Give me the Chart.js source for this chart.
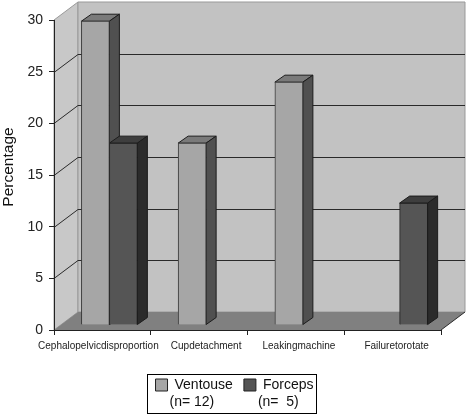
<!DOCTYPE html>
<html>
<head>
<meta charset="utf-8">
<style>
  html, body { margin: 0; padding: 0; background: #fff; }
  #wrap { width: 466px; height: 414px; }
</style>
<script src="https://cdn.jsdelivr.net/npm/chart.js@4/dist/chart.umd.min.js"></script>
</head>
<body>
<div id="wrap"><canvas id="myChart" width="466" height="414"></canvas></div>
<script>
const categories = ['Cephalopelvicdisproportion', 'Cupdetachment', 'Leakingmachine', 'Failuretorotate'];
const ventouse = [29.4, 17.6, 23.5, null];
const forceps = [17.6, null, null, 11.8];
const yTicks = [0, 5, 10, 15, 20, 25, 30];
const seriesNames = ['Ventouse', 'Forceps'];
const seriesCounts = ['(n= 12)', '(n=  5)'];
const yTitle = 'Percentage';

// depth of the box and of the bars, the library has no 3d so it is done by hand
const WALL_DX = 24;
const WALL_DY = -18;
const BAR_SHIFT_X = 7;
const BAR_SHIFT_Y = -5;
const BAR_DX = 10;
const BAR_DY = -7;
const LABEL_NUDGE = [-4, 7, 3, 4]; // the x labels are not centered on their slots in the original
const LEGEND_NUDGE = 14;
const FONT = '"Liberation Sans", Arial, sans-serif';

function poly(ctx, points, fill, stroke) {
  ctx.beginPath();
  points.forEach((p, i) => (i === 0 ? ctx.moveTo(p[0], p[1]) : ctx.lineTo(p[0], p[1])));
  ctx.closePath();
  if (fill) { ctx.fillStyle = fill; ctx.fill(); }
  if (stroke) { ctx.strokeStyle = stroke; ctx.lineWidth = 1; ctx.stroke(); }
}

const boxPlugin = {
  id: 'box',
  afterUpdate(chart) {
    chart.scales.x.getLabelItems().forEach((item, i) => {
      item.options.translation[0] += LABEL_NUDGE[i];
    });
    const { legend } = chart;
    legend.left += LEGEND_NUDGE;
    legend.right += LEGEND_NUDGE;
    legend.legendHitBoxes.forEach((box) => { box.left += LEGEND_NUDGE; });
  },
  beforeDraw(chart) {
    const { ctx, chartArea: a, scales } = chart;
    const dx = WALL_DX;
    const dy = WALL_DY;
    ctx.save();
    poly(ctx, [[a.left, a.top], [a.left + dx, a.top + dy], [a.left + dx, a.bottom + dy], [a.left, a.bottom]], '#c8c8c8', '#999999');
    poly(ctx, [[a.left + dx, a.top + dy], [a.right + dx, a.top + dy], [a.right + dx, a.bottom + dy], [a.left + dx, a.bottom + dy]], '#c2c2c2', '#999999');
    poly(ctx, [[a.left, a.bottom], [a.left + dx, a.bottom + dy], [a.right + dx, a.bottom + dy], [a.right, a.bottom]], '#808080', null);
    ctx.strokeStyle = '#2a2a2a';
    ctx.lineWidth = 1;
    ctx.beginPath();
    yTicks.forEach((t) => {
      if (t === 0 || t === 30) { return; }
      const y = Math.round(scales.y.getPixelForValue(t)) + 0.5;
      ctx.moveTo(a.left, y);
      ctx.lineTo(a.left + dx, y + dy);
      ctx.lineTo(a.right + dx, y + dy);
    });
    ctx.moveTo(a.right, a.bottom);
    ctx.lineTo(a.right + dx, a.bottom + dy);
    ctx.stroke();
    ctx.restore();
  },
  // tops and sides go under all front faces, then forceps covers the ventouse side
  beforeDatasetsDraw(chart) {
    const { ctx } = chart;
    ctx.save();
    ctx.translate(BAR_SHIFT_X, BAR_SHIFT_Y);
    chart.data.datasets.forEach((ds, index) => {
      chart.getDatasetMeta(index).data.forEach((bar, i) => {
        if (ds.data[i] === null) { return; }
        const l = bar.x - bar.width / 2;
        const r = bar.x + bar.width / 2;
        const t = bar.y;
        const b = bar.base;
        poly(ctx, [[l, t], [l + BAR_DX, t + BAR_DY], [r + BAR_DX, t + BAR_DY], [r, t]], ds.topColor, '#1c1c1c');
        poly(ctx, [[r, t], [r + BAR_DX, t + BAR_DY], [r + BAR_DX, b + BAR_DY], [r, b]], ds.sideColor, '#1c1c1c');
      });
    });
    ctx.restore();
  },
  beforeDatasetDraw(chart) {
    chart.ctx.save();
    chart.ctx.translate(BAR_SHIFT_X, BAR_SHIFT_Y);
  },
  afterDatasetDraw(chart) {
    chart.ctx.restore();
  },
  afterDraw(chart) {
    const { ctx, legend } = chart;
    const boxes = legend.legendHitBoxes;
    ctx.save();
    ctx.strokeStyle = '#000';
    ctx.lineWidth = 1;
    ctx.strokeRect(Math.round(boxes[0].left) - 9 + 0.5, Math.round(legend.top) + 7 + 0.5, 169, 39);
    ctx.fillStyle = '#111';
    ctx.font = '14px ' + FONT;
    ctx.textBaseline = 'middle';
    seriesCounts.forEach((txt, i) => {
      ctx.fillText(txt, boxes[i].left + 14, boxes[i].top + boxes[i].height / 2 + 17);
    });
    ctx.font = '15.5px ' + FONT;
    ctx.translate(9, 167);
    ctx.rotate(-Math.PI / 2);
    ctx.textAlign = 'center';
    ctx.fillText(yTitle, 0, 0);
    ctx.restore();
  }
};

const config = {
  type: 'bar',
  data: {
    labels: categories,
    datasets: [
      {
        label: seriesNames[0],
        data: ventouse,
        backgroundColor: '#a6a6a6',
        borderColor: '#3a3a3a',
        borderWidth: 1,
        topColor: '#7a7a7a',
        sideColor: '#505050',
        clip: false
      },
      {
        label: seriesNames[1],
        data: forceps,
        backgroundColor: '#555555',
        borderColor: '#1c1c1c',
        borderWidth: 1,
        topColor: '#3e3e3e',
        sideColor: '#2b2b2b',
        clip: false
      }
    ]
  },
  options: {
    responsive: false,
    animation: false,
    layout: { padding: { left: 0, right: 25, top: 20, bottom: 12 } },
    datasets: { bar: { categoryPercentage: 1, barThickness: 28 } },
    plugins: {
      tooltip: { enabled: false },
      title: { display: false },
      legend: {
        position: 'bottom',
        labels: {
          boxWidth: 12,
          boxHeight: 12,
          padding: 11,
          color: '#111',
          font: { family: FONT, size: 14 },
          generateLabels(chart) {
            return chart.data.datasets.map((ds, i) => ({
              text: ds.label,
              fillStyle: ds.backgroundColor,
              strokeStyle: '#222',
              lineWidth: 1,
              fontColor: '#111',
              datasetIndex: i
            }));
          }
        }
      }
    },
    scales: {
      x: {
        grid: { offset: true, drawOnChartArea: false, tickLength: 5, color: '#222' },
        border: { color: '#222' },
        ticks: {
          color: '#222',
          maxRotation: 0,
          autoSkip: false,
          padding: 5,
          font: { family: FONT, size: 10 }
        },
        afterFit(scale) { scale.height = 37; }
      },
      y: {
        min: 0,
        max: 30,
        afterBuildTicks(scale) { scale.ticks = yTicks.map((v) => ({ value: v })); },
        grid: { drawOnChartArea: false, tickLength: 5, color: '#222' },
        border: { color: '#222' },
        ticks: {
          color: '#222',
          padding: 6,
          font: { family: FONT, size: 14 }
        },
        afterFit(scale) { scale.width = 54; }
      }
    }
  },
  plugins: [boxPlugin]
};

document.addEventListener('DOMContentLoaded', () => {
  new Chart(document.querySelector('#myChart'), config);
});
</script>
</body>
</html>
